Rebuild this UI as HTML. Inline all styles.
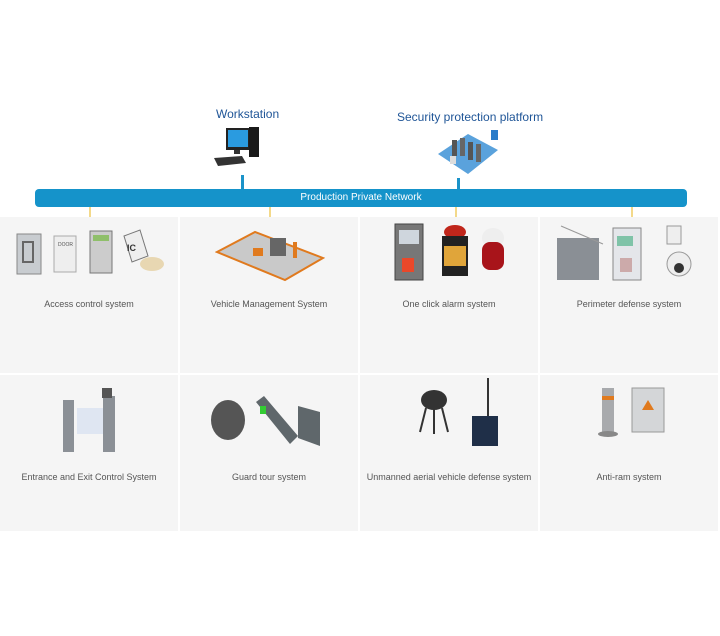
<!DOCTYPE html>
<html><head><meta charset="utf-8"><style>
body{margin:0;width:720px;height:636px;background:#fff;position:relative;overflow:hidden;font-family:"Liberation Sans",sans-serif}
.a{position:absolute}
.cell{position:absolute;background:#f5f5f5;width:178px;height:156px}
.lbl{position:absolute;width:178px;text-align:center;font-size:9px;color:#555}
.t{position:absolute;color:#1f5597;font-size:12px}
.st{position:absolute;width:2px;background:#f3d98a;height:10px;top:207px}
</style></head><body>
<div class="t" style="left:216px;top:107px">Workstation</div>
<div class="t" style="left:397px;top:110px">Security protection platform</div>
<!-- computer -->
<svg class="a" style="left:212px;top:126px" width="56" height="48">
<rect x="14" y="2" width="24" height="22" fill="#222"/><rect x="16" y="4" width="20" height="17" fill="#2a9be0"/>
<rect x="37" y="1" width="10" height="30" fill="#1a1a1a"/><rect x="22" y="24" width="6" height="4" fill="#333"/>
<polygon points="2,32 30,30 34,37 6,40" fill="#333"/></svg>
<div class="a" style="left:241px;top:175px;width:3px;height:14px;background:#1b93c9"></div>
<!-- platform -->
<svg class="a" style="left:436px;top:128px" width="66" height="50">
<polygon points="2,26 32,6 62,22 32,46" fill="#5aa2dc"/>
<rect x="16" y="12" width="5" height="16" fill="#555"/><rect x="24" y="10" width="5" height="18" fill="#666"/><rect x="32" y="14" width="5" height="18" fill="#555"/><rect x="40" y="16" width="5" height="18" fill="#666"/>
<rect x="14" y="28" width="6" height="8" fill="#ddd"/><rect x="55" y="2" width="7" height="10" fill="#2a7cc9"/></svg>
<div class="a" style="left:457px;top:178px;width:3px;height:12px;background:#1b93c9"></div>
<div class="a" style="left:35px;top:189px;width:652px;height:18px;background:#1593ca;border-radius:4px;color:#fff;font-size:10px;line-height:18px;text-align:center">Production Private Network</div>
<div class="st" style="left:89px"></div><div class="st" style="left:269px"></div><div class="st" style="left:455px"></div><div class="st" style="left:631px"></div>
<div class="cell" style="left:0;top:217px"></div><div class="cell" style="left:180px;top:217px"></div><div class="cell" style="left:360px;top:217px"></div><div class="cell" style="left:540px;top:217px"></div>
<div class="cell" style="left:0;top:375px"></div><div class="cell" style="left:180px;top:375px"></div><div class="cell" style="left:360px;top:375px"></div><div class="cell" style="left:540px;top:375px"></div>
<!-- row1 icons -->
<svg class="a" style="left:14px;top:226px" width="150" height="52">
<rect x="3" y="8" width="24" height="40" fill="#c8ccd0" stroke="#888"/><rect x="9" y="16" width="10" height="20" fill="none" stroke="#666" stroke-width="2"/>
<rect x="40" y="10" width="22" height="36" fill="#eee" stroke="#aaa"/><text x="44" y="20" font-size="5" fill="#555">DOOR</text>
<rect x="76" y="5" width="22" height="42" fill="#ccc" stroke="#777"/><rect x="79" y="9" width="16" height="6" fill="#8fbf6a"/>
<polygon points="110,10 126,4 134,30 118,36" fill="#eee" stroke="#777"/><text x="113" y="25" font-size="9" font-weight="bold" fill="#333">IC</text>
<ellipse cx="138" cy="38" rx="12" ry="7" fill="#e8d7b2"/></svg>
<svg class="a" style="left:215px;top:222px" width="110" height="60">
<polygon points="2,30 40,10 108,36 70,58" fill="#c9c9c9" stroke="#e07a1e" stroke-width="2"/>
<rect x="55" y="16" width="16" height="18" fill="#666"/><rect x="38" y="26" width="10" height="8" fill="#e07a1e"/><rect x="78" y="20" width="4" height="16" fill="#e07a1e"/></svg>
<svg class="a" style="left:392px;top:222px" width="120" height="60">
<rect x="3" y="2" width="28" height="56" fill="#777" stroke="#444"/><rect x="7" y="8" width="20" height="14" fill="#cfd6dd"/><rect x="10" y="36" width="12" height="14" fill="#e9482a"/>
<ellipse cx="63" cy="10" rx="11" ry="7" fill="#c0261b"/><rect x="50" y="14" width="26" height="40" fill="#222"/><rect x="52" y="24" width="22" height="20" fill="#e0a53a"/>
<ellipse cx="101" cy="16" rx="11" ry="10" fill="#eee"/><rect x="90" y="20" width="22" height="28" rx="8" fill="#a8141a"/></svg>
<svg class="a" style="left:555px;top:224px" width="160" height="62">
<rect x="2" y="14" width="42" height="42" fill="#8a8f95"/><line x1="6" y1="2" x2="48" y2="20" stroke="#999"/>
<rect x="58" y="4" width="28" height="52" fill="#e4e6ea" stroke="#888"/><rect x="62" y="12" width="16" height="10" fill="#7fc3a8"/><rect x="65" y="34" width="12" height="14" fill="#caa"/>
<rect x="112" y="2" width="14" height="18" fill="#eee" stroke="#999"/><circle cx="124" cy="40" r="12" fill="#eee" stroke="#999"/><circle cx="124" cy="44" r="5" fill="#333"/></svg>
<div class="lbl" style="left:0;top:299px">Access control system</div>
<div class="lbl" style="left:180px;top:299px">Vehicle Management System</div>
<div class="lbl" style="left:360px;top:299px">One click alarm system</div>
<div class="lbl" style="left:540px;top:299px">Perimeter defense system</div>
<!-- row2 icons -->
<svg class="a" style="left:60px;top:388px" width="60" height="66">
<rect x="3" y="12" width="11" height="52" fill="#8b9096"/><rect x="17" y="20" width="26" height="26" fill="#dfe6f2"/><rect x="43" y="8" width="12" height="56" fill="#8b9096"/><rect x="42" y="0" width="10" height="10" fill="#555"/></svg>
<svg class="a" style="left:208px;top:394px" width="124" height="56">
<ellipse cx="20" cy="26" rx="17" ry="20" fill="#555"/><polygon points="48,8 56,2 90,42 82,50" fill="#5f676b"/><rect x="52" y="12" width="6" height="8" fill="#3c3"/>
<polygon points="90,12 112,18 112,52 90,44" fill="#5f676b"/></svg>
<svg class="a" style="left:414px;top:376px" width="110" height="76">
<ellipse cx="20" cy="24" rx="13" ry="10" fill="#333"/><line x1="12" y1="32" x2="6" y2="56" stroke="#333" stroke-width="2"/><line x1="20" y1="32" x2="20" y2="58" stroke="#333" stroke-width="2"/><line x1="28" y1="32" x2="34" y2="56" stroke="#333" stroke-width="2"/>
<rect x="58" y="40" width="26" height="30" fill="#1f2f48"/><line x1="74" y1="2" x2="74" y2="40" stroke="#333" stroke-width="2"/></svg>
<svg class="a" style="left:596px;top:386px" width="72" height="52">
<rect x="6" y="2" width="12" height="44" fill="#a8aaad"/><rect x="6" y="10" width="12" height="4" fill="#e07a1e"/><ellipse cx="12" cy="48" rx="10" ry="3" fill="#888"/>
<rect x="36" y="2" width="32" height="44" fill="#d4d6d8" stroke="#999"/><polygon points="52,14 58,24 46,24" fill="#e07a1e"/></svg>
<div class="lbl" style="left:0;top:472px">Entrance and Exit Control System</div>
<div class="lbl" style="left:180px;top:472px">Guard tour system</div>
<div class="lbl" style="left:360px;top:472px">Unmanned aerial vehicle defense system</div>
<div class="lbl" style="left:540px;top:472px">Anti-ram system</div>
</body></html>
